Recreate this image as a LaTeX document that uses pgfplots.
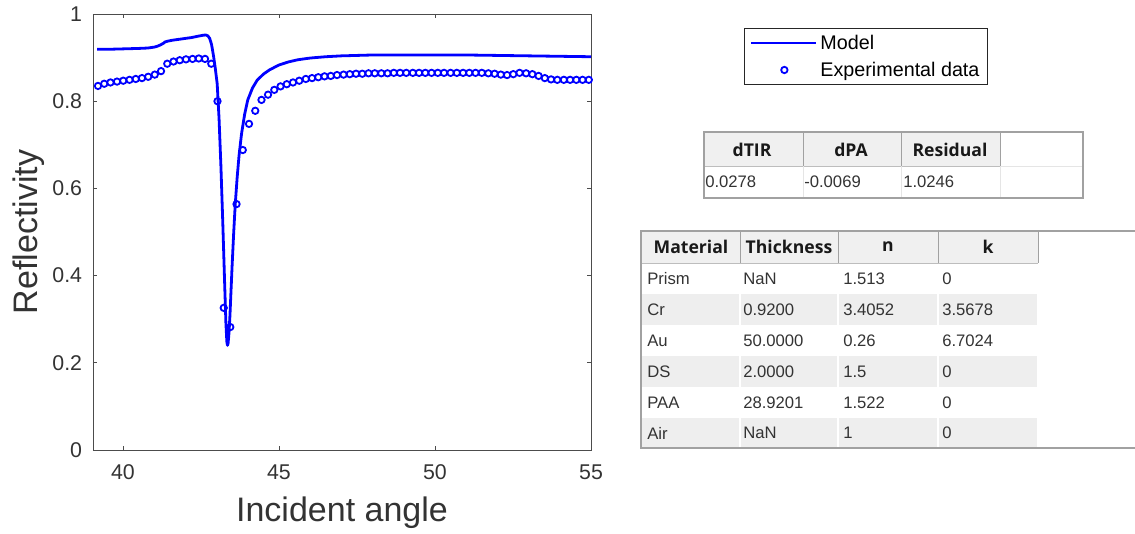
\documentclass[border=0pt]{standalone}
\usepackage{fontspec}
\setmainfont{Liberation Sans}
\newfontfamily\hdr{Open Sans}
\usepackage{pgfplots}
\usepackage{pgfplotstable}
\pgfplotsset{compat=1.18}
\definecolor{axgray}{gray}{0.3}
\definecolor{hdrbg}{gray}{0.94}
\definecolor{rowbg}{gray}{0.935}
\definecolor{tblline}{gray}{0.63}
\definecolor{mblue}{rgb}{0,0,1}
\pgfplotsset{
  lineleg/.style={legend image code/.code={\draw[##1] (0pt,0pt) -- (49pt,0pt);}},
  markleg/.style={legend image code/.code={\draw[mark repeat=2,mark phase=2,##1] plot coordinates {(0pt,0pt)(25pt,0pt)(49pt,0pt)};}},
}

\pgfplotstableread{
x y
39.17 0.919
39.50 0.919
40.00 0.920
40.50 0.921
40.80 0.922
41.00 0.924
41.10 0.926
41.20 0.929
41.30 0.933
41.35 0.936
41.45 0.938
41.60 0.940
41.80 0.942
42.00 0.944
42.20 0.946
42.40 0.949
42.55 0.951
42.65 0.952
42.72 0.950
42.78 0.944
42.84 0.930
42.90 0.905
42.96 0.875
43.02 0.840
43.08 0.760
43.14 0.650
43.20 0.520
43.26 0.380
43.30 0.290
43.33 0.248
43.35 0.240
43.37 0.245
43.40 0.270
43.43 0.310
43.46 0.360
43.50 0.425
43.55 0.500
43.60 0.565
43.66 0.625
43.72 0.675
43.80 0.725
43.90 0.770
44.00 0.803
44.15 0.830
44.30 0.848
44.50 0.862
44.70 0.872
45.00 0.883
45.30 0.890
45.60 0.895
46.00 0.899
46.50 0.902
47.00 0.904
48.00 0.906
49.00 0.906
50.00 0.906
51.00 0.906
52.00 0.905
53.00 0.904
54.00 0.903
55.00 0.902
}\modeltab

\pgfplotstableread{
x y
39.20 0.835
39.40 0.840
39.60 0.843
39.81 0.845
40.01 0.847
40.21 0.849
40.41 0.851
40.61 0.853
40.81 0.856
41.02 0.861
41.22 0.869
41.42 0.886
41.62 0.891
41.82 0.894
42.02 0.896
42.23 0.897
42.43 0.898
42.63 0.897
42.83 0.886
43.03 0.800
43.23 0.326
43.44 0.282
43.64 0.564
43.84 0.688
44.04 0.748
44.24 0.778
44.44 0.803
44.65 0.815
44.85 0.826
45.05 0.834
45.25 0.839
45.45 0.843
45.65 0.847
45.86 0.851
46.06 0.853
46.26 0.855
46.46 0.857
46.66 0.858
46.86 0.860
47.07 0.861
47.27 0.862
47.47 0.863
47.67 0.863
47.87 0.864
48.07 0.864
48.28 0.864
48.48 0.864
48.68 0.865
48.88 0.865
49.08 0.865
49.29 0.865
49.49 0.865
49.69 0.865
49.89 0.865
50.09 0.865
50.29 0.865
50.50 0.865
50.70 0.865
50.90 0.865
51.10 0.865
51.30 0.865
51.50 0.865
51.71 0.864
51.91 0.863
52.11 0.861
52.31 0.860
52.51 0.862
52.71 0.865
52.92 0.864
53.12 0.862
53.32 0.858
53.52 0.853
53.72 0.850
53.92 0.849
54.13 0.849
54.33 0.849
54.53 0.849
54.73 0.849
54.93 0.849
}\exptab

\begin{document}
\begin{tikzpicture}
\begin{axis}[
  scale only axis, width=373.5pt, height=327pt,
  xmin=39.04, xmax=55, ymin=0, ymax=1,
  xtick={40,45,50,55}, ytick={0,0.2,0.4,0.6,0.8,1},
  tick align=inside, major tick length=3pt,
  axis line style={axgray, line width=0.6pt},
  tick style={axgray, line width=0.6pt},
  tick label style={font=\fontsize{16}{18}\selectfont, text=black!80},
  /pgf/number format/assume math mode=true,
  yticklabel style={/pgf/number format/fixed, inner sep=0pt, xshift=-8pt},
  xticklabel style={inner sep=0pt, yshift=-11pt},
  xlabel={Incident angle}, ylabel={Reflectivity},
  label style={font=\fontsize{25.5}{28}\selectfont, text=black!80},
  xlabel style={at={(axis description cs:0.5,-0.165)}, anchor=base},
  ylabel style={at={(axis description cs:-0.1124,0.5)}, anchor=base},
  legend cell align=left,
  legend style={at={(axis description cs:1.552,0.9025)}, anchor=center,
    draw=black!85, line width=0.6pt, fill=white,
    font=\fontsize{14.8}{16.5}\selectfont, inner xsep=4pt, inner ysep=3pt,
    row sep=4pt},
]
\addplot[mblue, line width=2.1pt, line join=round, lineleg] table[x=x,y=y] {\modeltab};
\addlegendentry{Model}
\addplot[mblue, only marks, mark=o, mark size=2.4pt, line width=1.35pt, markleg]
  table[x=x,y=y] {\exptab};
\addlegendentry{Experimental data}
\end{axis}

\begin{scope}[x=0.75pt,y=-0.75pt,xshift=-69.75pt,yshift=337.5pt]
  % ---- table 1 ----
  \fill[hdrbg] (704,132) rectangle (1000,166);
  \draw[tblline, line width=0.6pt] (803,132)--(803,166) (901,132)--(901,166) (1000,132)--(1000,166);
  \draw[white!90!black, line width=0.5pt] (704,166)--(1083,166);
  \draw[tblline!70, line width=0.6pt] (704,166)--(1000,166);
  \draw[white!90!black, line width=0.4pt] (803,166)--(803,198) (901,166)--(901,198) (1000,166)--(1000,198);
  \draw[tblline, line width=1pt] (704,132) rectangle (1083,198);
  \begin{scope}[every node/.style={font=\hdr\bfseries\fontsize{13.2}{15}\selectfont, text=black!90, inner sep=0pt}]
    \node at (752,150) {dTIR};
    \node at (851,150) {dPA};
    \node at (950,150) {Residual};
  \end{scope}
  \begin{scope}[every node/.style={font=\fontsize{12.5}{14}\selectfont, text=black!80, anchor=west, inner sep=0pt}]
    \node at (705,182) {0.0278};
    \node at (804,182) {-0.0069};
    \node at (903,182) {1.0246};
  \end{scope}
  % ---- table 2 ----
  \fill[hdrbg] (641,231) rectangle (1038,263);
  \fill[rowbg] (641,294) rectangle (1038,325);
  \fill[rowbg] (641,356) rectangle (1038,387);
  \fill[rowbg] (641,418) rectangle (1038,448);
  \draw[white, line width=1.2pt] (740,263)--(740,448) (838,263)--(838,448) (938,263)--(938,448) (1038,263)--(1038,448);
  \draw[tblline, line width=0.6pt] (740,231)--(740,263) (838,231)--(838,263) (938,231)--(938,263) (1038,231)--(1038,263);
  \draw[tblline!70, line width=0.6pt] (641,263)--(1038,263);
  \draw[tblline, line width=1pt] (1135,231)--(641,231)--(641,448)--(1135,448);
  \begin{scope}[every node/.style={font=\hdr\bfseries\fontsize{13.2}{15}\selectfont, text=black!90, inner sep=0pt}]
    \node at (691,247) {Material};
    \node at (789,247) {Thickness};
    \node at (888,247) {n};
    \node at (988,247) {k};
  \end{scope}
  \begin{scope}[every node/.style={font=\fontsize{12.5}{14}\selectfont, text=black!80, anchor=west, inner sep=0pt}]
    \node at (647,278.5) {Prism};   \node at (743,278.5) {NaN};     \node at (843,278.5) {1.513};  \node at (942,278.5) {0};
    \node at (647,309.5) {Cr};      \node at (743,309.5) {0.9200};  \node at (843,309.5) {3.4052}; \node at (942,309.5) {3.5678};
    \node at (647,340.5) {Au};      \node at (743,340.5) {50.0000}; \node at (843,340.5) {0.26};   \node at (942,340.5) {6.7024};
    \node at (647,371.5) {DS};      \node at (743,371.5) {2.0000};  \node at (843,371.5) {1.5};    \node at (942,371.5) {0};
    \node at (647,402.5) {PAA};     \node at (743,402.5) {28.9201}; \node at (843,402.5) {1.522};  \node at (942,402.5) {0};
    \node at (647,433) {Air};       \node at (743,433) {NaN};       \node at (843,433) {1};        \node at (942,433) {0};
  \end{scope}
  \pgfresetboundingbox
  \path (0,0) rectangle (1135,533);
\end{scope}
\end{tikzpicture}
\end{document}
